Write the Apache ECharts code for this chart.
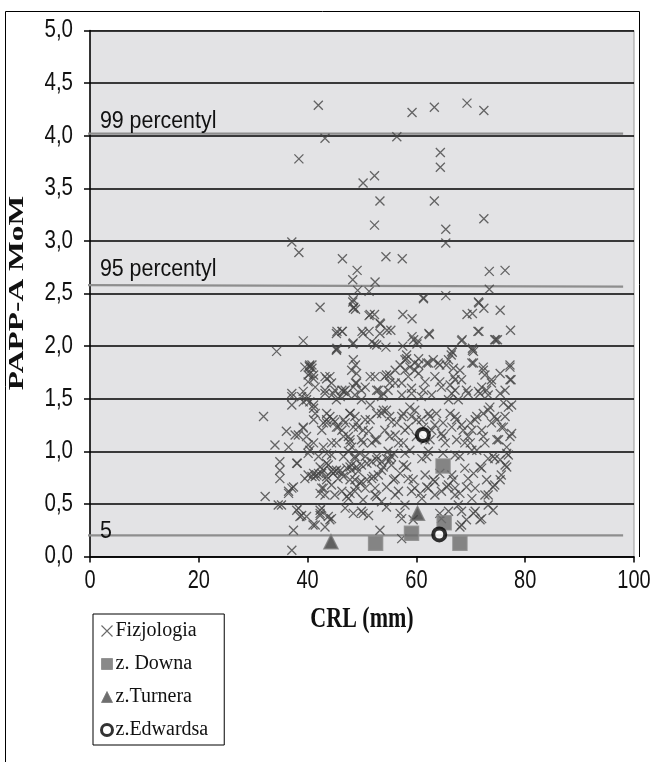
<!DOCTYPE html>
<html><head><meta charset="utf-8">
<script src="https://cdn.jsdelivr.net/npm/echarts@6/dist/echarts.min.js"></script>
<style>html,body{margin:0;padding:0;background:#fff}#c{width:650px;height:762px}</style>
</head><body><div id="c"></div>
<script>
// Data: [CRL (mm), PAPP-A MoM]
const fizjologia = [
[41.97,4.29],[59.2,4.22],[63.3,4.27],[69.3,4.31],[72.4,4.24],[43.2,3.975],[56.4,3.99],[38.4,3.78],[64.4,3.84],[64.4,3.70],
[52.3,3.62],[50.2,3.55],[53.3,3.38],[63.3,3.38],[72.4,3.21],[52.3,3.15],[65.4,3.11],[65.4,2.98],[37.1,2.99],[38.4,2.89],
[46.4,2.83],[54.4,2.85],[57.4,2.83],[49.1,2.72],[48.3,2.63],[52.4,2.61],[73.4,2.71],[76.3,2.72],[73.4,2.54],[49.2,2.53],
[51.3,2.52],[61.3,2.46],[65.4,2.48],[42.3,2.37],[48.3,2.42],[48.5,2.37],[48.8,2.35],[71.4,2.42],[72.4,2.36],[75.4,2.34],
[69.3,2.30],[70.3,2.31],[51.3,2.29],[52.3,2.30],[53.3,2.22],[57.5,2.30],[59.2,2.26],[77.3,2.15],[71.3,2.14],[55.3,2.15],
[45.3,2.12],[46.4,2.14],[50.2,2.12],[51.3,2.14],[53.3,2.12],[59.2,2.09],[60.3,2.05],[62.4,2.11],[74.4,2.06],[68.3,2.05],
[39.2,2.05],[34.3,1.95],[45.3,1.97],[48.3,2.02],[52.3,2.02],[54.4,1.99],[57.5,2.0],[66.5,1.95],[70.3,1.98],
[40.4,1.82],[40.4,1.80],[40.4,1.74],[43.2,1.71],[44.1,1.71],[48.8,1.82],[49.0,1.74],[48.8,1.65],[52.4,1.71],[54.5,1.725],
[55.1,1.725],[56.1,1.77],[57.0,1.82],[57.9,1.87],[58.2,1.915],[60.4,1.88],[60.4,1.82],[62.2,1.84],[64.0,1.84],[65.5,1.82],
[66.8,1.79],[66.4,1.915],[70.2,1.84],[70.5,1.95],[72.3,1.80],[72.6,1.725],[75.4,1.74],[77.2,1.82],[77.4,1.68],[61.6,1.66],
[61.3,1.58],[57.3,1.65],[59.1,1.60],[64.3,1.66],[66.2,1.63],[67.1,1.58],[67.1,1.68],
[37.1,1.55],[38.9,1.52],[39.8,1.49],[41.1,1.44],[43.2,1.55],[45.0,1.58],[46.0,1.52],[47.2,1.55],[48.7,1.535],[49.9,1.49],
[51.5,1.44],[53.6,1.52],[54.8,1.58],[57.3,1.535],[59.1,1.55],[60.9,1.52],[62.8,1.535],[65.9,1.49],[67.7,1.49],[69.5,1.55],
[71.4,1.57],[73.2,1.535],[75.4,1.55],
[31.9,1.33],[36.1,1.19],[39.2,1.22],[37.7,1.155],[34.0,1.06],[36.5,1.04],
[43.5,1.30],[45.0,1.28],[46.3,1.20],[47.5,1.14],[48.7,1.33],[49.3,1.23],[49.9,1.11],[51.2,1.19],[52.4,1.11],[53.6,1.36],
[54.5,1.39],[55.4,1.28],[56.1,1.155],[57.3,1.33],[58.5,1.23],[59.7,1.39],[60.9,1.30],[62.2,1.36],[63.4,1.25],[64.6,1.17],
[67.1,1.33],[68.3,1.25],[69.5,1.14],[70.8,1.30],[72.0,1.20],[73.2,1.39],[74.4,1.33],[75.6,1.23],[76.9,1.42],[77.5,1.17],
[32.2,0.57],[34.9,0.90],[34.9,0.82],[34.9,0.74],[35.2,0.49],[36.5,0.60],[37.1,0.65],[38.0,0.886],[38.3,0.46],[38.9,0.39],
[37.4,0.25],[37.1,0.06],[40.1,0.775],[41.4,0.76],[42.0,0.79],[41.0,0.30],[43.2,0.28],[42.6,0.65],[43.2,0.585],[42.6,0.46],
[42.3,0.39],[43.8,0.38],[43.8,0.87],[45.0,0.81],[45.6,0.74],[44.4,0.68],[46.3,0.62],[47.5,0.55],[46.9,0.46],[48.1,0.87],
[48.7,0.93],[49.3,0.81],[49.9,0.71],[50.6,0.65],[49.9,0.43],[51.2,0.39],[51.8,0.74],[53.0,0.775],[53.6,0.82],[52.4,0.585],
[53.6,0.52],[54.5,0.47],[53.3,0.25],[54.8,1.0],[55.4,0.87],[56.1,0.74],[56.7,0.62],[57.6,0.87],[58.5,0.74],[59.1,0.62],
[57.9,0.49],[57.3,0.36],[57.3,0.17],[61.0,0.93],[61.6,0.775],[62.2,0.65],[61.0,0.55],[63.4,0.71],[64.6,0.62],[65.9,0.68],
[66.5,0.775],[67.1,0.585],[67.7,0.49],[68.3,0.43],[68.9,0.84],[69.5,0.74],[70.8,0.65],[72.0,0.84],[72.6,0.585],[73.2,0.49],
[74.4,0.68],[75.6,0.775],[76.3,0.87],[70.8,0.43],[72.0,0.36],[68.3,0.30],[65.9,0.43],[64.6,0.36],[74.4,0.93],[76.9,0.965],
[40.3,1.81],[40.8,1.79],[40.1,1.725],[41.1,1.69],[43.5,1.69],[37.1,1.52],[37.1,1.44],[39.2,1.57],[39.8,1.52],[39.2,1.47],
[40.4,1.47],[41.1,1.41],[41.4,1.36],[38.3,1.155],[39.2,1.23],[40.1,1.06],[40.1,0.98],[38.1,0.886],[42.9,0.82],[36.5,0.62],
[37.4,0.66],[34.6,0.49],[38.0,0.44],[38.6,0.38],[41.4,0.30],[44.4,0.36],[42.3,0.60],[42.9,0.65],[42.3,0.44],[43.5,0.886],
[43.5,0.98],[44.7,1.30],[45.6,1.23],[46.6,1.14],[43.5,1.36],[43.5,1.27],[45.3,1.49],[46.6,1.57],[45.3,1.96],[46.3,2.14],
[48.4,2.44],[48.4,2.36],[48.4,2.03],[48.4,1.87],[48.4,1.61],[47.8,1.36],[48.4,1.23],[47.8,1.08],[48.7,0.95],[47.8,0.85],
[48.7,0.73],[47.2,0.57],[48.4,0.41],[42.9,1.04],[42.0,0.95],
[51.5,2.30],[53.4,2.21],[54.6,2.15],[61.3,2.45],[71.5,2.41],[71.5,2.14],[74.6,2.06],[45.4,2.14],[45.4,1.98],[50.0,2.14],
[51.8,2.04],[52.7,2.01],[59.5,2.06],[62.3,2.12],[60.1,2.02],[68.4,2.06],[70.3,1.96],[66.6,1.94],[74.9,2.06],
[39.5,1.80],[40.8,1.82],[41.1,1.725],[40.1,1.66],[43.2,1.58],[44.7,1.55],[46.3,1.58],[48.1,1.77],[49.0,1.65],[49.9,1.58],
[51.5,1.71],[52.7,1.58],[54.2,1.71],[55.1,1.65],[53.9,1.55],[58.2,1.88],[57.9,1.77],[58.8,1.80],[59.7,1.84],[60.4,1.74],
[61.9,1.84],[63.1,1.87],[64.3,1.82],[65.9,1.87],[66.8,1.71],[68.0,1.77],[66.5,1.55],[69.2,1.58],[70.5,1.84],[72.3,1.77],
[73.8,1.68],[77.2,1.80],[77.2,1.68],[71.7,1.55],[72.9,1.58],[76.0,1.46],[77.5,1.44],
[41.1,0.79],[42.3,0.85],[43.5,0.73],[44.7,0.79],[46.0,0.82],[46.6,0.76],[47.8,0.73],[49.0,0.66],[49.6,0.70],[50.9,0.73],
[52.1,0.76],[53.9,0.85],[55.1,0.92],[47.8,0.60],[50.2,0.54],[52.7,0.57],[54.5,0.66],[55.8,0.73],[57.0,0.79],[58.2,0.85],
[59.4,0.73],[60.7,0.60],[61.9,0.66],[63.1,0.73],[64.3,0.79],[65.6,0.66],[66.8,0.73],[68.0,0.60],[69.2,0.66],[70.5,0.79],
[71.7,0.85],[72.9,0.73],[74.1,0.66],[75.4,0.73],[76.6,0.85],[75.4,0.92],
[41.1,1.30],[42.9,1.27],[44.1,1.33],[45.3,1.23],[46.6,1.30],[47.8,1.36],[49.0,1.27],[50.2,1.20],[51.5,1.30],[52.7,1.36],
[53.9,1.39],[55.1,1.33],[56.4,1.27],[57.6,1.36],[58.8,1.42],[60.0,1.30],[61.3,1.23],[62.5,1.33],[63.7,1.36],[64.9,1.27],
[66.2,1.36],[67.4,1.30],[68.6,1.20],[69.9,1.27],[71.1,1.33],[72.3,1.36],[73.5,1.42],[74.8,1.30],[76.0,1.23],[77.2,1.14],
[76.6,1.04],[74.8,1.11],[72.3,1.14],[69.9,1.08],[67.4,1.11],[64.9,1.14],[62.5,1.11],[60.0,1.14],[57.6,1.08],[55.1,1.14],
[52.7,1.11],[50.2,1.08],[47.8,1.11],[45.3,1.08],[41.1,1.08],[39.8,1.14],
[40.4,1.01],[46.6,0.95],[49.6,0.98],[52.7,0.95],[55.8,0.98],[58.8,1.01],[61.9,0.95],[64.9,0.98],[68.0,0.95],[71.1,1.01],
[74.1,0.95],[76.6,0.98],
[39.8,0.38],[42.3,0.41],[44.1,0.35],[50.2,0.41],[57.0,0.41],[59.4,0.35],[64.3,0.41],[68.0,0.28],[70.5,0.41],[71.7,0.35],
[74.1,0.44],[69.2,0.35],
[39.5,0.74],[40.8,0.76],[41.7,0.775],[42.6,0.79],[43.5,0.76],[44.4,0.81],[45.3,0.82],[46.3,0.79],[47.2,0.84],[48.1,0.82],
[49.0,0.85],[49.9,0.87],[50.9,0.886],[51.8,0.90],[52.7,0.92],[53.6,0.90],[54.5,0.93],[55.4,0.95],
[45.0,0.585],[48.7,0.62],[52.4,0.65],[56.1,0.585],[59.7,0.65],[63.4,0.585],[67.1,0.65],[70.2,0.55],[73.2,0.585],
[44.4,0.965],[47.5,1.0],[50.6,0.95],[57.9,0.98],[62.2,1.0],[67.1,0.965],[70.2,1.01],[73.2,0.93],
[42.6,1.20],[44.4,1.08],[46.9,1.27],[48.1,1.04],[50.6,1.30],[51.8,1.08],[54.2,1.20],[56.7,1.08],[57.9,1.20],[59.1,1.33],
[61.6,1.11],[62.8,1.20],[65.3,1.08],[66.5,1.23],[68.9,1.08],[70.2,1.20],[72.6,1.08],[73.8,1.27],[75.1,1.11],[76.3,1.33],
[41.4,1.61],[44.4,1.65],[46.9,1.58],[50.6,1.61],[53.0,1.58],[56.1,1.65],[58.5,1.71],[59.7,1.77],[63.4,1.71],[64.6,1.61],
[68.3,1.68],[72.0,1.61],[73.8,1.65],[76.3,1.58]
];
const zDowna = [[64.9,0.86],[65.1,0.32],[59.1,0.22],[52.5,0.125],[68.0,0.125]];
const zTurnera = [[44.3,0.14],[60.2,0.41]];
const zEdwardsa = [[61.2,1.155],[64.2,0.21]];
// percentile lines: [x, y] end points
const p99 = [[-2,4.02],[98,4.02]];
const p95 = [[-2,2.58],[98,2.565]];
const p5 = [[-2,0.2],[98,0.2]];
const percentileLabels = ['99 percentyl','95 percentyl','5'];
const xTicks = [0,20,40,60,80,100];
const yTicks = [0,0.5,1,1.5,2,2.5,3,3.5,4,4.5,5];
const seriesNames = ['Fizjologia','z. Downa','z.Turnera','z.Edwardsa'];
const xTitle = 'CRL (mm)';
const yTitle = 'PAPP-A MoM';

const sans = "'Liberation Sans',Arial,sans-serif";
const serif = "'Liberation Serif','Times New Roman',serif";
const crossPath = 'path://M0,0L10,10M10,0L0,10';

const chart = echarts.init(document.getElementById('c'), null, {renderer:'canvas'});
const lineSeries = (name, d) => ({
  name, type:'line', data:d, symbol:'none', silent:true, z:3,
  lineStyle:{color:'#8e8e8e', width:2.2}
});
chart.setOption({
  animation:false,
  backgroundColor:'#ffffff',
  grid:{left:90, right:16, top:30.5, bottom:205.5, containLabel:false, outerBoundsMode:'none',
    show:true, backgroundColor:'#e3e3e5', borderColor:'#9a9a9a', borderWidth:1},
  xAxis:{
    type:'value', min:xTicks[0], max:xTicks[xTicks.length-1], interval:20,
    axisLine:{show:true, onZero:false, lineStyle:{color:'#000', width:1.5}},
    axisTick:{show:true, length:6, lineStyle:{color:'#000', width:1.5}},
    axisLabel:{show:false},
    splitLine:{show:false}
  },
  yAxis:{
    type:'value', min:yTicks[0], max:yTicks[yTicks.length-1], interval:0.5,
    axisLine:{show:true, onZero:false, lineStyle:{color:'#000', width:1.5}},
    axisTick:{show:true, length:6, lineStyle:{color:'#000', width:1.5}},
    axisLabel:{show:false},
    splitLine:{show:true, lineStyle:{color:'#000', width:1.5}}
  },
  legend:{
    orient:'vertical', left:93, top:614,
    padding:[7,16,5,7], itemGap:13, itemWidth:11, itemHeight:11,
    borderColor:'#000', borderWidth:1, backgroundColor:'#fff',
    textStyle:{fontFamily:serif, fontSize:20, color:'#111', padding:[0,0,0,-2]},
    data:[
      {name:seriesNames[0], icon:crossPath, itemStyle:{color:'transparent', borderColor:'#444', borderWidth:1.1}},
      {name:seriesNames[1], icon:'rect', itemStyle:{color:'#6b6b6b', borderColor:'#8a8a8a', borderWidth:1}},
      {name:seriesNames[2], icon:'triangle', itemStyle:{color:'#4a4a4a', borderColor:'#7a7a7a', borderWidth:1}},
      {name:seriesNames[3], icon:'circle', itemStyle:{color:'#fff', borderColor:'#000', borderWidth:3}}
    ]
  },
  series:[
    {name:seriesNames[0], type:'scatter', data:fizjologia, symbol:crossPath, symbolSize:9, z:4,
      itemStyle:{color:'transparent', borderColor:'#444', borderWidth:1.3}},
    lineSeries('p99', p99), lineSeries('p95', p95), lineSeries('p5', p5),
    {name:seriesNames[1], type:'scatter', data:zDowna, symbol:'rect', symbolSize:14, z:5,
      itemStyle:{color:'#6b6b6b', borderColor:'#8a8a8a', borderWidth:1.5}},
    {name:seriesNames[2], type:'scatter', data:zTurnera, symbol:'triangle', symbolSize:14, z:5,
      itemStyle:{color:'#3f3f3f', borderColor:'#7a7a7a', borderWidth:1.5}},
    {name:seriesNames[3], type:'scatter', data:zEdwardsa, symbol:'circle', symbolSize:12, z:6,
      itemStyle:{color:'#ffffff', borderColor:'#000', borderWidth:4}}
  ]
});

const toPx = p => chart.convertToPixel({gridIndex:0}, p);
const g = [];
// y tick labels
yTicks.forEach(v=>{
  const p = toPx([0, v]);
  g.push({type:'text', x:73, y:p[1], scaleX:0.82, silent:true,
    style:{text:v.toFixed(1).replace('.',','), x:0, y:0, align:'right', verticalAlign:'middle',
      font:"25px "+sans, fill:'#111'}});
});
// x tick labels
xTicks.forEach(v=>{
  const p = toPx([v, 0]);
  g.push({type:'text', x:p[0], y:p[1]+25, scaleX:0.8, silent:true,
    style:{text:String(v), x:0, y:0, align:'center', verticalAlign:'middle',
      font:"25px "+sans, fill:'#111'}});
});
// axis titles
g.push({type:'text', x:362, y:620, scaleY:1.3, silent:true,
  style:{text:xTitle, x:0, y:0, align:'center', verticalAlign:'middle', font:"bold 22px "+serif, fill:'#111'}});
g.push({type:'text', x:18, y:293, rotation:Math.PI/2, scaleX:1.5, silent:true,
  style:{text:yTitle, x:0, y:0, align:'center', verticalAlign:'middle', font:"bold 21px "+serif, fill:'#111'}});
// percentile labels (vertical centre offset from their line, in px)
const labelAt = [[2.0, 4.02],[2.0, 2.58],[2.0, 0.2]];
const labelDy = [-12, -15.5, -3.5];
labelAt.forEach((p,i)=>{
  const px = toPx(p);
  g.push({type:'text', x:px[0]-1, y:px[1]+labelDy[i], scaleX:0.93, z:10, silent:true,
    style:{text:percentileLabels[i], x:0, y:0, align:'left', verticalAlign:'middle', font:"23px "+sans, fill:'#111'}});
});
// outer frame
g.push({type:'polyline', z:0, silent:true,
  shape:{points:[[5.5,762],[5.5,11.5],[639.5,11.5],[639.5,557]]},
  style:{stroke:'#000', lineWidth:1, fill:null}});
chart.setOption({graphic:g});
</script>
</body></html>
